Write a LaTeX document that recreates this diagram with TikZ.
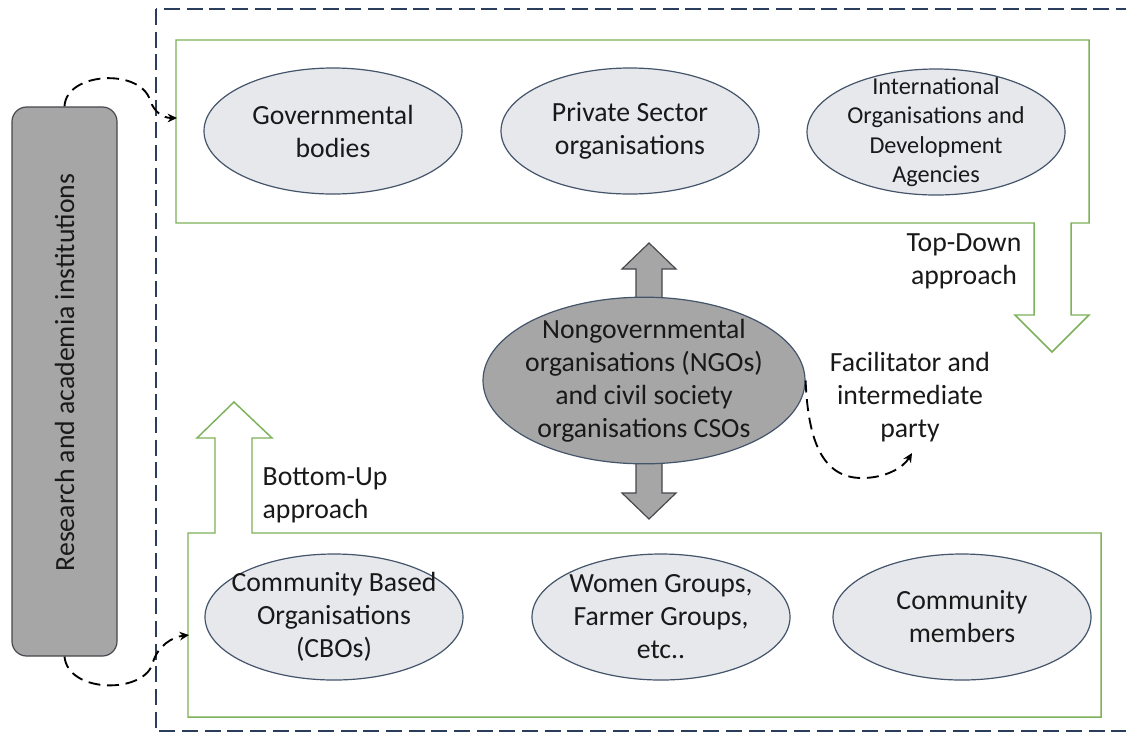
\documentclass[tikz,border=0pt]{standalone}
\usepackage{fontspec}
\setmainfont{Carlito}
\usetikzlibrary{shapes.geometric,arrows.meta}

\definecolor{framegreen}{RGB}{125,178,90}
\definecolor{framenavy}{RGB}{42,62,92}
\definecolor{ellfill}{RGB}{231,232,236}
\definecolor{ellline}{RGB}{68,84,106}
\definecolor{darkfill}{RGB}{166,166,166}
\definecolor{boxline}{RGB}{72,72,78}
\definecolor{inktext}{RGB}{25,25,25}

\newcommand{\mainsize}{\fontsize{20.8}{24.75}\selectfont}
\newcommand{\smallsize}{\fontsize{18.2}{22}\selectfont}

\begin{document}
\begin{tikzpicture}[x=0.75pt,y=-0.75pt,
  every node/.style={text=inktext},
  ell/.style={ellipse, draw=ellline, fill=ellfill, line width=0.9pt,
    minimum width=193.5pt, minimum height=94.5pt,
    inner xsep=-60pt, inner ysep=-40pt,
    align=center, font=\mainsize},
  ngo/.style={ellipse, draw=ellline, fill=darkfill, line width=0.9pt,
    minimum width=241.5pt, minimum height=125pt,
    inner xsep=-60pt, inner ysep=-40pt,
    align=center, font=\mainsize},
  resbox/.style={draw=boxline, fill=darkfill, line width=0.9pt,
    rounded corners=11pt, minimum width=78.75pt, minimum height=411.75pt,
    inner sep=0pt, font=\mainsize},
  greenframe/.style={draw=framegreen, line width=1.1pt, line join=miter},
  linkarrow/.style={draw=black, line width=1.4pt, dash pattern=on 9pt off 5pt,
    -{Stealth[length=7pt,width=6.5pt]}},
  label/.style={align=center, font=\mainsize}]

\useasboundingbox (0,0) rectangle (1126,733);
\fill[white] (0,0) rectangle (1126,733);

% outer dashed frame, open towards the right edge
\begin{scope}
  \clip (0,0) rectangle (1126,733);
  \draw[framenavy, line width=1.5pt, dash pattern=on 12pt off 5pt]
    (156,9) rectangle (1180,731);
\end{scope}

% upper frame merged with the Top-Down arrow
\draw[greenframe] (176,40) -- (1089,40) -- (1089,223) -- (1071,223)
  -- (1071,315) -- (1089,315) -- (1052,352) -- (1015,315) -- (1034,315)
  -- (1034,223) -- (176,223) -- cycle;

% lower frame merged with the Bottom-Up arrow
\draw[greenframe] (188,533) -- (215,533) -- (215,438) -- (197,438)
  -- (234,402) -- (272,438) -- (252,438) -- (252,533) -- (1101,533)
  -- (1101,717) -- (188,717) -- cycle;

% research and academia column (label set slightly above the middle)
\node[resbox] (res) at (64.5,381.5)
  {\rotatebox{90}{\hspace{13.5pt}Research and academia institutions}};

% upper actors
\node[ell] (gov)  at (333,131) {Governmental\\bodies};
\node[ell] (priv) at (630,131) {Private Sector\\organisations};
\node[ell, font=\smallsize] (intl) at (936,132)
  {International\\Organisations and\\Development\\Agencies};

% lower actors
\node[ell] (cbo)   at (334,617) {Community Based\\Organisations\\(CBOs)};
\node[ell] (women) at (661,617) {Women Groups,\\Farmer Groups,\\etc..};
\node[ell] (comm)  at (962,617) {Community\\members};

% two-way link through the NGO layer
\draw[draw=boxline, fill=darkfill, line width=0.9pt, line join=miter]
  (649,243) -- (676,269) -- (662,269) -- (662,493) -- (676,493)
  -- (649,519) -- (622,493) -- (636,493) -- (636,269) -- (622,269) -- cycle;

\node[ngo] (ngo) at (644,380.5)
  {Nongovernmental\\organisations (NGOs)\\and civil society\\organisations CSOs};

% approach and role labels
\node[label] (topdown) at (964,261) {Top-Down\\approach};
\node[label, align=left, anchor=west] (bottomup) at (258,495)
  {Bottom-Up\\approach};
\node[label] (facil) at (910,397) {Facilitator and\\intermediate\\party};

% dashed links
\coordinate (upin)  at (177,118);
\coordinate (lowin) at (189,635);
\coordinate (facilend) at (912,453);

\draw[linkarrow] (res.north) .. controls (66,72) and (140,68) .. (150,100)
  .. controls (154,112) and (163,118) .. (upin);
\draw[linkarrow] (res.south) .. controls (68,694) and (146,694) .. (153,662)
  .. controls (158,646) and (172,637) .. (lowin);
\draw[linkarrow] (ngo.east) .. controls (808,440) and (822,478) .. (862,478)
  .. controls (885,478) and (903,468) .. (facilend);

\end{tikzpicture}
\end{document}
